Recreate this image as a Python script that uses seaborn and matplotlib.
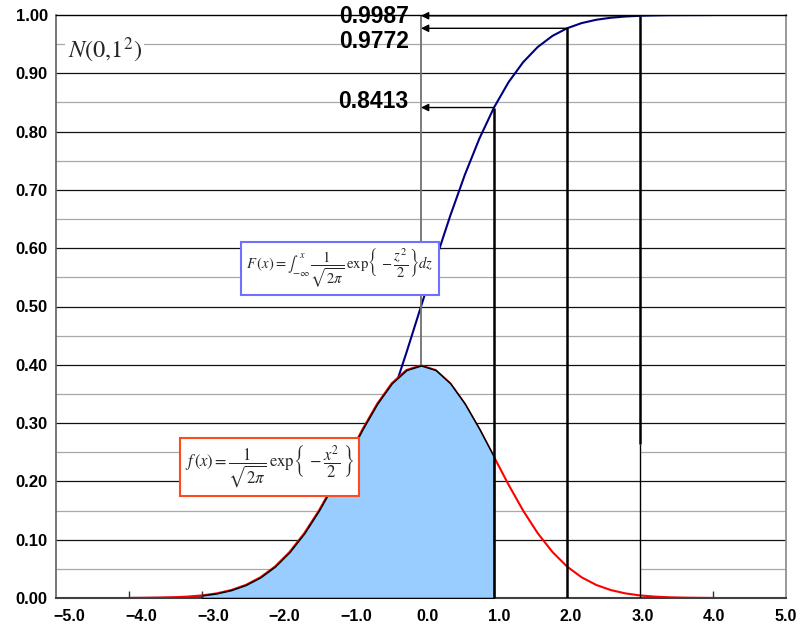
import matplotlib
matplotlib.use("Agg")
import matplotlib.pyplot as plt
import matplotlib.transforms as mtransforms
import seaborn as sns
import pandas as pd

# ---- data ----
x_vals = [-4.0, -3.8, -3.6, -3.4, -3.2, -3.0, -2.8, -2.6, -2.4, -2.2, -2.0,
          -1.8, -1.6, -1.4, -1.2, -1.0, -0.8, -0.6, -0.4, -0.2, 0.0,
          0.2, 0.4, 0.6, 0.8, 1.0, 1.2, 1.4, 1.6, 1.8, 2.0,
          2.2, 2.4, 2.6, 2.8, 3.0, 3.2, 3.4, 3.6, 3.8, 4.0]
pdf_vals = [0.0001, 0.0003, 0.0006, 0.0012, 0.0024, 0.0044, 0.0079, 0.0136, 0.0224, 0.0355, 0.0540,
            0.0790, 0.1109, 0.1497, 0.1942, 0.2420, 0.2897, 0.3332, 0.3683, 0.3910, 0.3989,
            0.3910, 0.3683, 0.3332, 0.2897, 0.2420, 0.1942, 0.1497, 0.1109, 0.0790, 0.0540,
            0.0355, 0.0224, 0.0136, 0.0079, 0.0044, 0.0024, 0.0012, 0.0006, 0.0003, 0.0001]
cdf_vals = [0.0000, 0.0001, 0.0002, 0.0003, 0.0007, 0.0013, 0.0026, 0.0047, 0.0082, 0.0139, 0.0228,
            0.0359, 0.0548, 0.0808, 0.1151, 0.1587, 0.2119, 0.2743, 0.3446, 0.4207, 0.5000,
            0.5793, 0.6554, 0.7257, 0.7881, 0.8413, 0.8849, 0.9192, 0.9452, 0.9641, 0.9772,
            0.9861, 0.9918, 0.9953, 0.9974, 0.9987, 0.9993, 0.9997, 0.9998, 0.9999, 1.0000]
marked_x = [1.0, 2.0, 3.0]
marked_p = [0.8413, 0.9772, 0.9987]
marked_labels = ["0.8413", "0.9772", "0.9987"]
shade_from, shade_to = -3.0, 1.0
x_ticks = [-5.0, -4.0, -3.0, -2.0, -1.0, 0.0, 1.0, 2.0, 3.0, 4.0, 5.0]
y_ticks = [0.0, 0.1, 0.2, 0.3, 0.4, 0.5, 0.6, 0.7, 0.8, 0.9, 1.0]

df = pd.DataFrame({"x": x_vals, "pdf": pdf_vals, "cdf": cdf_vals})

sns.set_theme(style="white")
plt.rcParams["font.family"] = ["Liberation Sans", "DejaVu Sans"]
plt.rcParams["mathtext.fontset"] = "stix"

fig = plt.figure(figsize=(8.09, 6.27), dpi=100)
ax = fig.add_axes([56 / 809, 1 - 598 / 627, 730 / 809, 583 / 627])
ax.set_xlim(-5, 5)
ax.set_ylim(0, 1.0)

# grid lines
for v in y_ticks[1:-1]:
    ax.axhline(v, color="#111111", lw=0.9, zorder=0.5)
for v in [0.15, 0.35, 0.45, 0.55, 0.65, 0.75, 0.85, 0.95]:
    ax.axhline(v, color="#A8A8A8", lw=0.9, zorder=0.5)
for v in [0.05, 0.25]:
    ax.hlines(v, -5, 1, color="#A8A8A8", lw=0.9, zorder=0.5)
    ax.hlines(v, 3, 5, color="#A8A8A8", lw=0.9, zorder=0.5)

# curves
sns.lineplot(data=df, x="x", y="cdf", color="#000080", lw=1.5, ax=ax, zorder=2)
sns.lineplot(data=df, x="x", y="pdf", color="#FF0000", lw=1.5, ax=ax, zorder=2)
mask = (df["x"] >= shade_from) & (df["x"] <= shade_to)
ax.fill_between(df["x"][mask], df["pdf"][mask], 0, facecolor="#99CCFF",
                edgecolor="black", lw=1.1, zorder=3)

# vertical guide lines
peak = df["pdf"].max()
ax.vlines(0.0, peak, 1.0, color="#707070", lw=1.3, zorder=2.5)
ax.vlines(marked_x[0], 0, marked_p[0], color="black", lw=1.8, zorder=4)
ax.vlines(marked_x[1], 0, marked_p[1], color="black", lw=1.8, zorder=4)
ax.vlines(marked_x[2], 0.265, marked_p[2], color="black", lw=1.8, zorder=4)
ax.vlines(marked_x[2], 0, 0.265, color="black", lw=1.0, zorder=4)
ax.vlines([-4.0, -3.0, 4.0], 0, 0.012, color="#333333", lw=1.0, zorder=4)

# arrows and labels
label_y = [0.8516, 0.955, 0.9974]
for xm, p, lab, ly in zip(marked_x, marked_p, marked_labels, label_y):
    ax.annotate("", xy=(0.0, p), xytext=(xm, p),
                arrowprops=dict(arrowstyle="-|>", lw=1.0, color="black",
                                mutation_scale=11, shrinkA=0, shrinkB=0), zorder=5)
    ax.text(-0.17, ly, lab, ha="right", va="center", fontsize=16.5,
            fontweight="bold", color="black", zorder=6)

ax.text(-4.84, 0.94, r"$N(0{,}1^2)$", fontsize=17.5, ha="left", va="center",
        bbox=dict(boxstyle="square,pad=0.1", fc="white", ec="none"), zorder=6)

ax.text(-1.11, 0.566,
        r"$F\,(x)=\int_{-\infty}^{\,x}\,\dfrac{1}{\sqrt{2\pi}}\,\exp\!\left\{\,-\dfrac{z^2}{2}\right\}dz$",
        ha="center", va="center", fontsize=10.5, zorder=6,
        bbox=dict(boxstyle="square,pad=0.35", fc="white", ec="#7070FF", lw=1.5))
ax.text(-2.08, 0.2247,
        r"$f\,(x)=\dfrac{1}{\sqrt{2\pi}}\,\exp\!\left\{\,-\dfrac{x^2}{2}\,\right\}$",
        ha="center", va="center", fontsize=12, zorder=6,
        bbox=dict(boxstyle="square,pad=0.3", fc="white", ec="#FF4A1E", lw=1.5))

# axes styling
ax.set_xticks(x_ticks)
ax.set_xticklabels([f"{v:.1f}".replace("-", "\u2212") for v in x_ticks],
                   fontsize=11.5, fontweight="bold")
ax.set_yticks(y_ticks)
ax.set_yticklabels([f"{v:.2f}" for v in y_ticks], fontsize=12, fontweight="bold")
ax.tick_params(axis="both", length=0, colors="black")
ax.tick_params(axis="x", pad=8)
ax.tick_params(axis="y", pad=6)
for v, lbl in zip(x_ticks, ax.get_xticklabels()):
    shift = 13.5 * (5.0 - v) / 10.0 / 100.0
    lbl.set_transform(lbl.get_transform() +
                      mtransforms.ScaledTranslation(shift, 0, fig.dpi_scale_trans))
ax.set_xlabel("")
ax.set_ylabel("")
ax.spines["top"].set_color("black")
ax.spines["top"].set_linewidth(1.0)
ax.spines["left"].set_color("#606060")
ax.spines["left"].set_linewidth(1.2)
ax.spines["bottom"].set_color("#404040")
ax.spines["bottom"].set_linewidth(1.5)
ax.spines["right"].set_color("#888888")
ax.spines["right"].set_linewidth(1.2)
for s in ax.spines.values():
    s.set_visible(True)

fig.savefig("out.png", dpi=100)
